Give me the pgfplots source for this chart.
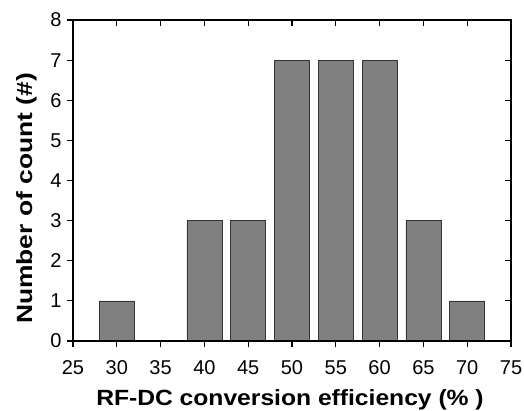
\documentclass[border=0pt]{standalone}
\usepackage{fontspec}
\setmainfont{Liberation Sans}
\usepackage{graphicx}
\usepackage{pgfplots}
\pgfplotsset{compat=1.18}

\definecolor{barfill}{RGB}{128,128,128}
\newcommand{\ticksize}{\fontsize{20}{22}\selectfont}

\begin{document}
\begin{tikzpicture}
% Histogram of RF-DC conversion efficiency
\begin{axis}[
  scale only axis,
  width=438pt, height=321pt,
  xmin=25, xmax=75, ymin=0, ymax=8,
  xtick={25,30,...,75}, ytick={0,1,...,8},
  tick align=outside, xtick pos=bottom, ytick pos=left,
  major tick length=6pt,
  axis line style={line width=1.4pt},
  tick style={line width=1.2pt, black},
  xticklabel={\ticksize\pgfmathprintnumber[assume math mode=true]{\tick}},
  yticklabel={\ticksize\pgfmathprintnumber[assume math mode=true]{\tick}},
  xticklabel style={yshift=-10pt},
  yticklabel style={xshift=-2pt},
  xlabel={\scalebox{1.12}[1]{\fontsize{22}{24}\selectfont\bfseries RF-DC conversion efficiency (\% )}},
  ylabel={\scalebox{1.2}[1]{\fontsize{22}{24}\selectfont\bfseries Number of count (\#)}},
  xlabel style={at={(axis description cs:0.4954,-0.1994)}, anchor=base},
  ylabel style={at={(axis description cs:-0.0936,0.444)}, anchor=base},
  ybar, bar width=4,
]
\addplot[fill=barfill, draw=black!80, line width=0.5pt] coordinates {
  (30,1) (40,3) (45,3) (50,7) (55,7) (60,7) (65,3) (70,1)
};
\end{axis}
% mirrored ticks on top and right edges, pointing inward
\begin{axis}[
  scale only axis,
  width=438pt, height=321pt,
  xmin=25, xmax=75, ymin=0, ymax=8,
  xtick={25,30,...,75}, ytick={0,1,...,8},
  tick align=inside, xtick pos=top, ytick pos=right,
  major tick length=6pt,
  axis line style={line width=1.4pt},
  tick style={line width=1.2pt, black},
  xticklabels={}, yticklabels={},
]
\end{axis}
\pgfresetboundingbox
\path ([xshift=-73pt,yshift=-70pt]current axis.south west)
  rectangle ([xshift=13pt,yshift=20pt]current axis.north east);
\end{tikzpicture}
\end{document}
